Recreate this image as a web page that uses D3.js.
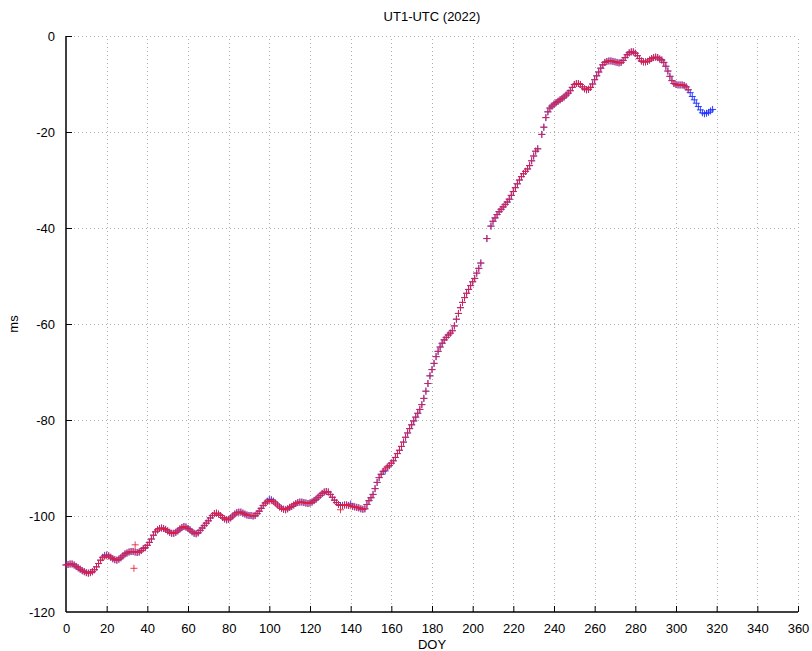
<!DOCTYPE html>
<html><head><meta charset="utf-8">
<script src="https://cdn.jsdelivr.net/npm/d3@7"></script>
<style>body{margin:0;background:#fff}svg{display:block}</style>
</head><body>
<svg id="c" width="812" height="651"></svg>
<script>
const chartTitle = "UT1-UTC (2022)";
const xLabel = "DOY";
const yLabel = "ms";
const xTicks = [0,20,40,60,80,100,120,140,160,180,200,220,240,260,280,300,320,340,360];
const yTicks = [0,-20,-40,-60,-80,-100,-120];

// blue series: DOY 0..318 (null = no value)
const blueVals = [
-110.2,-110.1,-110.0,-110.0,-110.2,-110.5,-110.8,-111.1,-111.4,-111.6,
-111.8,-111.9,-111.8,-111.6,-111.2,-110.6,-109.9,-109.2,-108.6,-108.2,
-108.1,-108.3,-108.6,-108.9,-109.1,-109.2,-109.0,-108.7,-108.3,-107.9,
-107.7,-107.5,-107.4,-107.4,-107.5,-107.6,-107.5,-107.2,-106.8,-106.6,
-106.1,-105.5,-104.8,-104.0,-103.3,-102.9,-102.6,-102.5,-102.6,-102.8,
-103.1,-103.4,-103.6,-103.6,-103.4,-103.1,-102.7,-102.4,-102.2,-102.3,
-102.6,-102.9,-103.3,-103.6,-103.7,-103.5,-103.0,-102.5,-102.0,-101.5,
-101.0,-100.4,-99.9,-99.5,-99.4,-99.6,-99.9,-100.3,-100.6,-100.8,
-100.7,-100.4,-100.0,-99.6,-99.3,-99.2,-99.2,-99.4,-99.6,-99.8,
-99.9,-99.9,-100.0,-99.9,-99.5,-99.0,-98.4,-97.8,-97.3,-96.9,
-96.5,-96.6,-96.9,-97.3,-97.7,-98.1,-98.4,-98.6,-98.7,-98.5,
-98.2,-98.0,-97.7,-97.4,-97.2,-97.1,-97.1,-97.2,-97.3,-97.4,
-97.3,-97.1,-96.8,-96.5,-96.1,-95.7,-95.3,-95.0,-94.9,-95.0,
-95.5,-96.1,-96.7,-97.2,-97.6,-97.8,-97.8,-97.7,-97.7,-97.8,
-97.5,-98.0,-98.1,-98.2,-98.3,-98.5,-98.6,-98.5,-97.6,-96.8,
-96.2,-95.5,-94.3,-93.0,-92.0,-91.3,-90.7,-90.6,-89.8,-89.5,
-89.0,-88.5,-87.8,-87.0,-86.3,-85.5,-84.6,-83.6,-82.7,-81.8,
-81.0,-80.2,-79.4,-78.6,-77.8,-76.8,-75.5,-74.0,-72.4,-70.8,
-69.5,-68.2,-66.8,-65.7,-64.8,-64.0,-63.3,-62.8,-62.3,-61.9,
-61.4,-60.4,-59.0,-57.8,-56.6,-55.5,-54.5,-53.6,-52.8,-52.0,
-51.2,-50.5,-49.4,-48.4,-47.3,null,null,-42.2,null,-39.6,
-38.6,-37.9,-37.2,-36.6,-36.1,-35.6,-35.1,-34.6,-34.0,-33.2,
-32.4,-31.6,-30.8,-30.0,-29.3,-28.7,-28.2,-27.7,-27.0,-26.0,
-25.0,-24.0,-23.5,null,-20.5,-19.0,-17.0,-15.8,-15.0,-14.6,
-14.2,-13.9,-13.6,-13.3,-13.0,-12.7,-12.3,-11.9,-11.4,-10.7,
-10.1,-9.9,-9.9,-10.1,-10.6,-11.0,-11.2,-11.1,-10.7,-10.0,
-9.1,-8.3,-7.5,-6.7,-6.0,-5.5,-5.3,-5.2,-5.2,-5.3,
-5.4,-5.5,-5.6,-5.5,-5.1,-4.5,-3.9,-3.5,-3.3,-3.3,
-3.6,-4.1,-4.7,-5.2,-5.4,-5.4,-5.3,-5.0,-4.7,-4.5,
-4.4,-4.5,-4.8,-5.0,-5.5,-6.3,-7.3,-8.4,-9.3,-9.9,
-10.1,-10.2,-10.2,-10.2,-10.3,-10.6,-11.2,-11.8,-12.6,-13.3,
-14.0,-14.7,-15.4,-16.0,-16.2,-16.1,-15.9,-15.6,-15.3
];

// red series: DOY 0..306 (null = no value)
const redVals = [
-110.2,-110.1,-110.0,-110.0,-110.2,-110.5,-110.8,-111.1,-111.4,-111.6,
-111.8,-111.9,-111.8,-111.6,-111.2,-110.6,-109.9,-109.2,-108.7,-108.4,
-108.3,-108.3,-108.6,-108.9,-109.1,-109.2,-109.0,-108.7,-108.3,-107.9,
-107.7,-107.5,-107.4,-107.4,-107.5,-107.6,-107.5,-107.2,-106.8,-106.6,
-106.1,-105.5,-104.8,-104.0,-103.3,-102.9,-102.6,-102.5,-102.6,-102.8,
-103.1,-103.4,-103.6,-103.6,-103.4,-103.1,-102.7,-102.4,-102.2,-102.3,
-102.6,-102.9,-103.3,-103.6,-103.7,-103.5,-103.0,-102.5,-102.0,-101.5,
-101.0,-100.4,-99.9,-99.5,-99.4,-99.6,-99.9,-100.3,-100.6,-100.8,
-100.7,-100.4,-100.0,-99.6,-99.3,-99.2,-99.2,-99.4,-99.6,-99.8,
-99.9,-99.9,-100.0,-99.9,-99.5,-99.0,-98.4,-97.8,-97.3,-97.0,
-96.9,-96.8,-97.0,-97.3,-97.7,-98.1,-98.4,-98.6,-98.7,-98.5,
-98.2,-98.0,-97.7,-97.4,-97.2,-97.1,-97.1,-97.2,-97.3,-97.4,
-97.3,-97.1,-96.8,-96.5,-96.1,-95.7,-95.3,-95.0,-94.9,-95.0,
-95.5,-96.1,-96.7,-97.2,-97.6,-98.7,-97.8,-97.7,-97.7,-97.8,
-97.9,-98.0,-98.1,-98.2,-98.3,-98.5,-98.6,-98.5,-97.6,-96.8,
-96.2,-95.5,-94.3,-93.0,-92.0,-91.3,-90.7,-90.2,-89.8,-89.5,
-89.0,-88.5,-87.8,-87.0,-86.3,-85.5,-84.6,-83.6,-82.7,-81.8,
-81.0,-80.2,-79.4,-78.6,-77.8,-76.8,-75.5,-74.0,-72.4,-70.8,
-69.5,-68.2,-66.8,-65.7,-64.8,-64.0,-63.3,-62.8,-62.3,-61.9,
-61.4,-60.4,-59.0,-57.8,-56.6,-55.5,-54.5,-53.6,-52.8,-52.0,
-51.2,-50.5,-49.4,-48.4,-47.3,null,null,-42.2,null,-39.6,
-38.6,-37.9,-37.2,-36.6,-36.1,-35.6,-35.1,-34.6,-34.0,-33.2,
-32.4,-31.6,-30.8,-30.0,-29.3,-28.7,-28.2,-27.7,-27.0,-26.0,
-25.0,-24.0,-23.5,null,-20.5,-19.0,-17.0,-15.8,-15.0,-14.6,
-14.2,-13.9,-13.6,-13.3,-13.0,-12.7,-12.3,-11.9,-11.4,-10.7,
-10.1,-9.9,-9.9,-10.1,-10.6,-11.0,-11.2,-11.1,-10.7,-10.0,
-9.1,-8.3,-7.5,-6.7,-6.0,-5.5,-5.3,-5.2,-5.2,-5.3,
-5.4,-5.5,-5.6,-5.5,-5.1,-4.5,-3.9,-3.5,-3.3,-3.3,
-3.6,-4.1,-4.7,-5.2,-5.4,-5.4,-5.3,-5.0,-4.7,-4.5,
-4.4,-4.5,-4.8,-5.0,-5.5,-6.3,-7.3,-8.4,-9.3,-9.9,
-10.1,-10.2,-10.2,-10.2,-10.3,-10.6,-11.2
];
// isolated extra red readings
const redExtraDoy = [33.4, 34.0];
const redExtraVal = [-110.9, -106.0];

const x = d3.scaleLinear().domain([0,360]).range([66,798]);
const y = d3.scaleLinear().domain([-120,0]).range([612,36]);
const svg = d3.select("#c");
const font = "'Liberation Sans', Arial, sans-serif";

// grid
const grid = svg.append("g").attr("stroke","#b0b0b0").attr("stroke-width",1).attr("stroke-dasharray","1,3");
grid.selectAll("line.v").data(xTicks.filter(d=>d>0)).enter().append("line")
  .attr("x1",d=>Math.round(x(d))+0.5).attr("x2",d=>Math.round(x(d))+0.5)
  .attr("y1",y(-120)).attr("y2",y(0));
grid.selectAll("line.h").data(yTicks.filter(d=>d>-120)).enter().append("line")
  .attr("y1",d=>Math.round(y(d))+0.5).attr("y2",d=>Math.round(y(d))+0.5)
  .attr("x1",x(0)).attr("x2",x(360));

// axes
const fmt = d => String(d);
const xAxis = d3.axisBottom(x).tickValues(xTicks).tickSize(-6).tickPadding(12).tickFormat(fmt);
const yAxis = d3.axisLeft(y).tickValues(yTicks).tickSize(-6).tickPadding(11).tickFormat(fmt);
const gx = svg.append("g").attr("transform",`translate(0,${y(-120)})`).call(xAxis);
const gy = svg.append("g").attr("transform",`translate(${x(0)},0)`).call(yAxis);
[gx,gy].forEach(g=>{
  g.select(".domain").attr("stroke","#000").attr("stroke-width",1.5);
  g.selectAll(".tick line").attr("stroke","#000");
  g.selectAll(".tick text").attr("font-family",font).attr("font-size",13).attr("fill","#000");
});
gx.select(".domain").attr("d",`M${x(0)},0H${x(360)}`);
gy.select(".domain").attr("d",`M0,${y(-120)}V${y(0)}`);
gy.selectAll(".tick line").filter(d=>d===-120).remove();
gx.selectAll(".tick line").filter(d=>d===0).remove();

function plus(g, pts, color, op){
  const s = 3.5;
  const p = d3.path();
  pts.forEach(([a,b])=>{
    const px = x(a), py = y(b);
    p.moveTo(px-s,py); p.lineTo(px+s,py);
    p.moveTo(px,py-s); p.lineTo(px,py+s);
  });
  g.append("path").attr("d",p.toString()).attr("fill","none")
   .attr("stroke",color).attr("stroke-width",1).attr("stroke-opacity",op);
}
const marks = svg.append("g");
const bluePts = blueVals.map((v,i)=>[i,v]).filter(d=>d[1]!==null);
const redPts = redVals.map((v,i)=>[i,v]).filter(d=>d[1]!==null)
  .concat(redExtraDoy.map((d,i)=>[d,redExtraVal[i]]));
plus(marks, bluePts, "#1a2cff", 0.9);
plus(marks, redPts, "#ec1c34", 0.85);

// labels
svg.append("text").attr("x",432).attr("y",21).attr("text-anchor","middle")
  .attr("font-family",font).attr("font-size",13).text(chartTitle);
svg.append("text").attr("x",432).attr("y",649).attr("text-anchor","middle")
  .attr("font-family",font).attr("font-size",13).text(xLabel);
svg.append("text").attr("transform","translate(18,324) rotate(-90)").attr("text-anchor","middle")
  .attr("font-family",font).attr("font-size",13).text(yLabel);
</script>
</body></html>
